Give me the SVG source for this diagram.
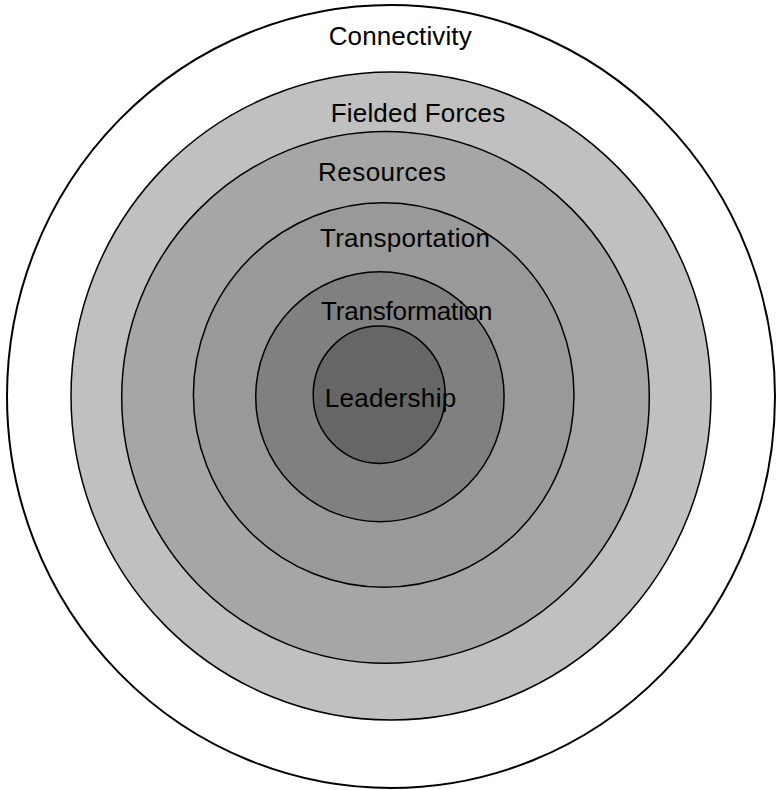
<svg xmlns="http://www.w3.org/2000/svg" width="776" height="790" viewBox="0 0 776 790">
<style>
.ring{stroke:#000;stroke-width:1.5}
.outer{stroke-width:2}
.lbl{font-family:"Liberation Sans",Arial,Helvetica,sans-serif;font-size:26px;fill:#000}
</style>
<rect width="776" height="790" fill="#fff"/>
<g id="connectivity">
<ellipse class="ring outer" cx="391" cy="396.5" rx="384" ry="391.5" fill="#fff"/>
<text class="lbl" x="328.7" y="45" textLength="143">Connectivity</text>
</g>
<g id="fielded-forces">
<ellipse class="ring" cx="391" cy="396" rx="320" ry="324" fill="#c0c0c0"/>
<text class="lbl" x="330.7" y="121.7" textLength="174.5">Fielded Forces</text>
</g>
<g id="resources">
<ellipse class="ring" cx="385.5" cy="397.4" rx="263.8" ry="265.9" fill="#a6a6a6"/>
<text class="lbl" x="318" y="180.7" textLength="128">Resources</text>
</g>
<g id="transportation">
<ellipse class="ring" cx="383.7" cy="395" rx="190.3" ry="192.3" fill="#999999"/>
<text class="lbl" x="320" y="246.5" textLength="170">Transportation</text>
</g>
<g id="transformation">
<ellipse class="ring" cx="379.9" cy="396.7" rx="124.2" ry="125" fill="#808080"/>
<text class="lbl" x="321" y="320" textLength="171.5">Transformation</text>
</g>
<g id="leadership">
<ellipse class="ring" cx="379.2" cy="394.7" rx="66" ry="68.7" fill="#666666"/>
<text class="lbl" x="324.7" y="407.3" textLength="131.5">Leadership</text>
</g>
<g id="connectors"></g>
</svg>
